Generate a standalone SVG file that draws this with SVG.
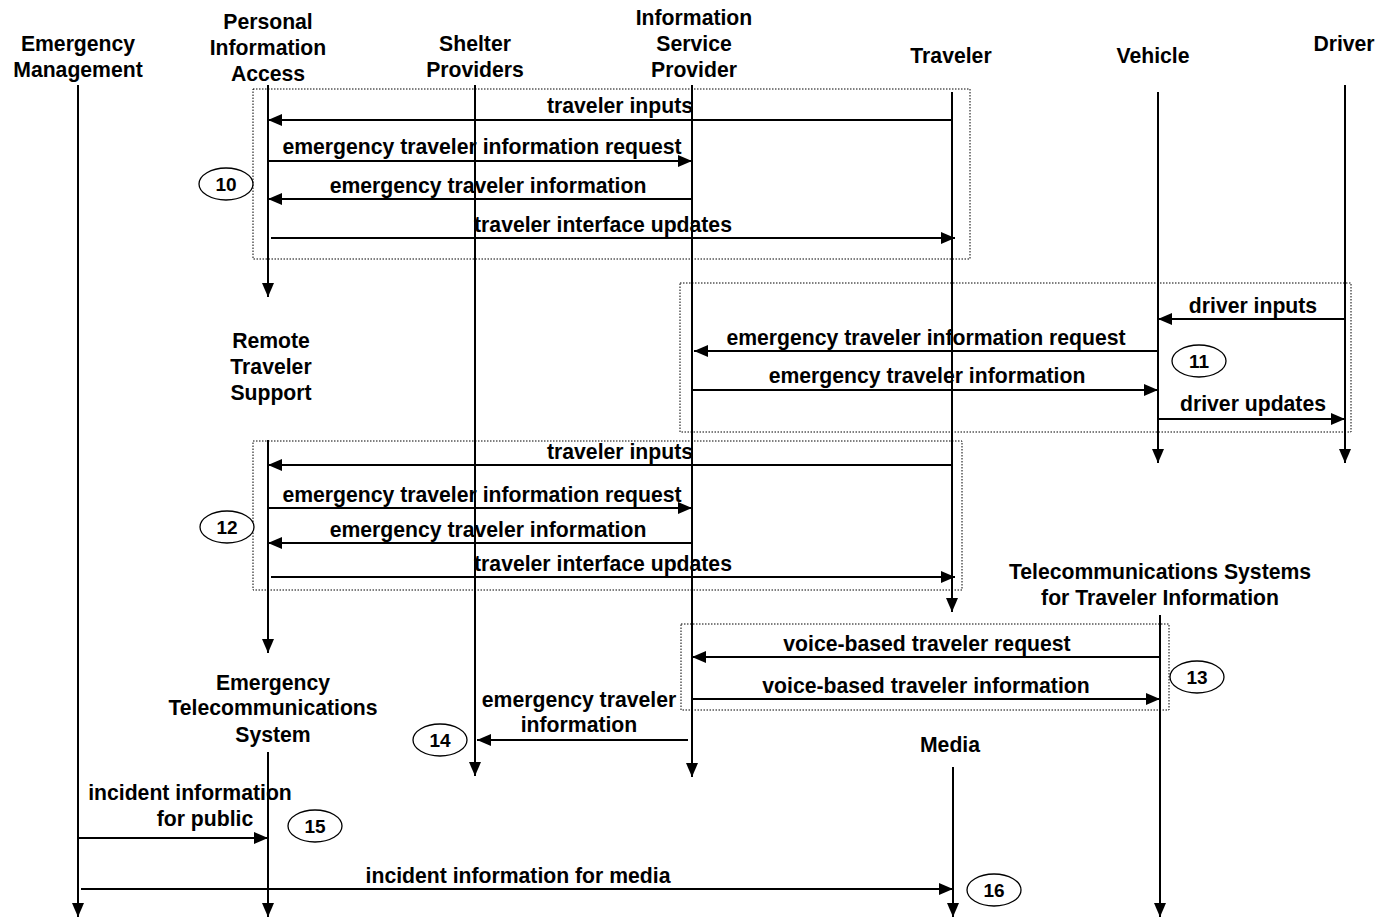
<svg xmlns="http://www.w3.org/2000/svg" width="1378" height="922" viewBox="0 0 1378 922">
  <style>
    text { font-family: "Liberation Sans", Arial, sans-serif; font-weight: bold; fill: #000; }
    .hd { font-size: 21.2px; text-anchor: middle; }
    .msg { font-size: 21.2px; text-anchor: middle; }
    .num { font-size: 19px; text-anchor: middle; }
    .life { stroke: #000; stroke-width: 2; fill: none; marker-end: url(#arrow); }
    .flow { stroke: #000; stroke-width: 2; fill: none; marker-end: url(#arrow); }
    .grp { fill: none; stroke: #000; stroke-width: 1; stroke-dasharray: 1.5 1.5; }
    .tag { fill: #fff; stroke: #000; stroke-width: 1.3; }
  </style>
  <defs>
    <marker id="arrow" markerUnits="userSpaceOnUse" markerWidth="14" markerHeight="12" refX="14" refY="6" orient="auto">
      <path d="M0,0 L14,6 L0,12 z" fill="#000"/>
    </marker>
  </defs>
  <rect width="1378" height="922" fill="#fff"/>

  <!-- grouping frames -->
  <g id="frames">
    <rect class="grp" x="253" y="89" width="717" height="170"/>
    <rect class="grp" x="680" y="283" width="671" height="149"/>
    <rect class="grp" x="253" y="441" width="709" height="149"/>
    <rect class="grp" x="681" y="624" width="488" height="86"/>
  </g>

  <!-- lifelines and their labels -->
  <g id="emergency-management">
    <text class="hd" x="78" y="51">Emergency</text>
    <text class="hd" x="78" y="77">Management</text>
    <line class="life" x1="78" y1="85" x2="78" y2="917"/>
  </g>
  <g id="personal-information-access">
    <text class="hd" x="268" y="29">Personal</text>
    <text class="hd" x="268" y="55">Information</text>
    <text class="hd" x="268" y="81">Access</text>
    <line class="life" x1="268" y1="85" x2="268" y2="297"/>
  </g>
  <g id="shelter-providers">
    <text class="hd" x="475" y="51">Shelter</text>
    <text class="hd" x="475" y="77">Providers</text>
    <line class="life" x1="475" y1="85" x2="475" y2="776"/>
  </g>
  <g id="information-service-provider">
    <text class="hd" x="694" y="25">Information</text>
    <text class="hd" x="694" y="51">Service</text>
    <text class="hd" x="694" y="77">Provider</text>
    <line class="life" x1="692" y1="85" x2="692" y2="777"/>
  </g>
  <g id="traveler">
    <text class="hd" x="951" y="63">Traveler</text>
    <line class="life" x1="952" y1="92" x2="952" y2="612"/>
  </g>
  <g id="vehicle">
    <text class="hd" x="1153" y="63">Vehicle</text>
    <line class="life" x1="1158" y1="92" x2="1158" y2="463"/>
  </g>
  <g id="driver">
    <text class="hd" x="1344" y="51">Driver</text>
    <line class="life" x1="1345" y1="85" x2="1345" y2="463"/>
  </g>
  <g id="remote-traveler-support">
    <text class="hd" x="271" y="348">Remote</text>
    <text class="hd" x="271" y="374">Traveler</text>
    <text class="hd" x="271" y="400">Support</text>
    <line class="life" x1="268" y1="440" x2="268" y2="653"/>
  </g>
  <g id="telecommunications-systems">
    <text class="hd" x="1160" y="579">Telecommunications Systems</text>
    <text class="hd" x="1160" y="605">for Traveler Information</text>
    <line class="life" x1="1160" y1="615" x2="1160" y2="917"/>
  </g>
  <g id="emergency-telecommunications-system">
    <text class="hd" x="273" y="690">Emergency</text>
    <text class="hd" x="273" y="715">Telecommunications</text>
    <text class="hd" x="273" y="742">System</text>
    <line class="life" x1="268" y1="752" x2="268" y2="917"/>
  </g>
  <g id="media">
    <text class="hd" x="950" y="752">Media</text>
    <line class="life" x1="953" y1="767" x2="953" y2="917"/>
  </g>

  <!-- message flows -->
  <g id="connectors">
    <line class="flow" x1="952" y1="120" x2="268" y2="120"/>
    <line class="flow" x1="268" y1="161" x2="692" y2="161"/>
    <line class="flow" x1="692" y1="199" x2="268" y2="199"/>
    <line class="flow" x1="271" y1="238" x2="955" y2="238"/>

    <line class="flow" x1="1345" y1="319" x2="1158" y2="319"/>
    <line class="flow" x1="1158" y1="351" x2="694" y2="351"/>
    <line class="flow" x1="692" y1="390" x2="1158" y2="390"/>
    <line class="flow" x1="1158" y1="419" x2="1345" y2="419"/>

    <line class="flow" x1="952" y1="465" x2="268" y2="465"/>
    <line class="flow" x1="268" y1="508" x2="692" y2="508"/>
    <line class="flow" x1="692" y1="543" x2="268" y2="543"/>
    <line class="flow" x1="271" y1="577" x2="955" y2="577"/>

    <line class="flow" x1="1160" y1="657" x2="692" y2="657"/>
    <line class="flow" x1="692" y1="699" x2="1160" y2="699"/>

    <line class="flow" x1="688" y1="740" x2="477" y2="740"/>
    <line class="flow" x1="78" y1="838" x2="268" y2="838"/>
    <line class="flow" x1="81" y1="889" x2="953" y2="889"/>
  </g>

  <g id="flow-labels">
    <text class="msg" x="620" y="113">traveler inputs</text>
    <text class="msg" x="482" y="154">emergency traveler information request</text>
    <text class="msg" x="488" y="193">emergency traveler information</text>
    <text class="msg" x="603" y="232">traveler interface updates</text>

    <text class="msg" x="1253" y="313">driver inputs</text>
    <text class="msg" x="926" y="345">emergency traveler information request</text>
    <text class="msg" x="927" y="383">emergency traveler information</text>
    <text class="msg" x="1253" y="411">driver updates</text>

    <text class="msg" x="620" y="459">traveler inputs</text>
    <text class="msg" x="482" y="502">emergency traveler information request</text>
    <text class="msg" x="488" y="537">emergency traveler information</text>
    <text class="msg" x="603" y="571">traveler interface updates</text>

    <text class="msg" x="927" y="651">voice-based traveler request</text>
    <text class="msg" x="926" y="693">voice-based traveler information</text>

    <text class="msg" x="579" y="707">emergency traveler</text>
    <text class="msg" x="579" y="732">information</text>
    <text class="msg" x="190" y="800">incident information</text>
    <text class="msg" x="205" y="826">for public</text>
    <text class="msg" x="518" y="883">incident information for media</text>
  </g>

  <!-- step numbers -->
  <g id="step-10"><ellipse class="tag" cx="226" cy="184" rx="27" ry="16"/><text class="num" x="226" y="191">10</text></g>
  <g id="step-11"><ellipse class="tag" cx="1199" cy="361" rx="27" ry="16"/><text class="num" x="1199" y="368">11</text></g>
  <g id="step-12"><ellipse class="tag" cx="227" cy="527" rx="27" ry="16"/><text class="num" x="227" y="534">12</text></g>
  <g id="step-13"><ellipse class="tag" cx="1197" cy="677" rx="27" ry="16"/><text class="num" x="1197" y="684">13</text></g>
  <g id="step-14"><ellipse class="tag" cx="440" cy="740" rx="27" ry="16"/><text class="num" x="440" y="747">14</text></g>
  <g id="step-15"><ellipse class="tag" cx="315" cy="826" rx="27" ry="16"/><text class="num" x="315" y="833">15</text></g>
  <g id="step-16"><ellipse class="tag" cx="994" cy="890" rx="27" ry="16"/><text class="num" x="994" y="897">16</text></g>
</svg>
